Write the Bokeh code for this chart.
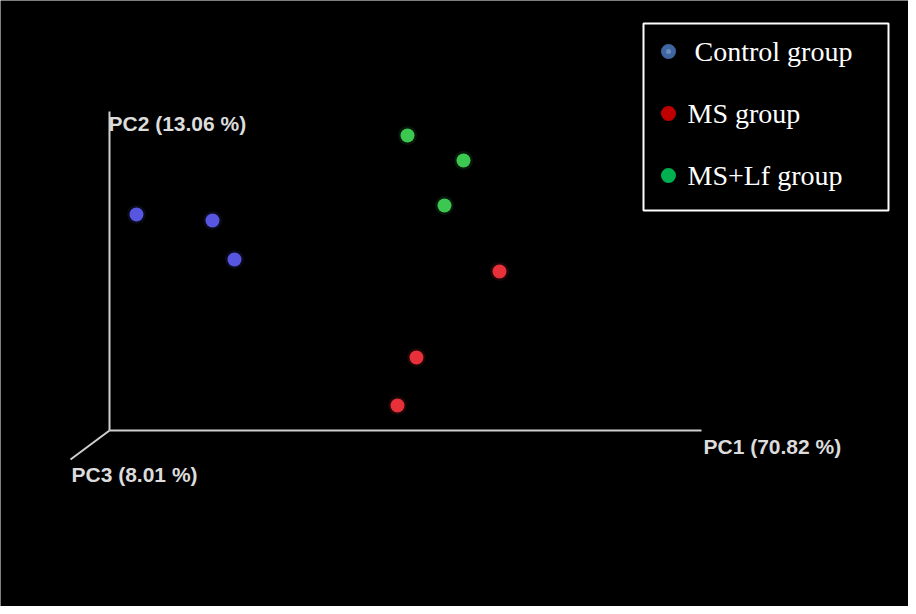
from bokeh.plotting import figure
from bokeh.models import Range1d
from bokeh.core.properties import value
from bokeh.embed import file_html
from bokeh.resources import INLINE

# ---- data (projected PCoA scores) ----
groups = ["Control group", "MS group", "MS+Lf group"]
control_pc1 = [0.27, 1.03, 1.25]
control_pc2 = [2.16, 2.10, 1.71]
ms_pc1 = [3.90, 3.07, 2.88]
ms_pc2 = [1.59, 0.73, 0.25]
mslf_pc1 = [2.98, 3.54, 3.35]
mslf_pc2 = [2.95, 2.70, 2.25]
axis_labels = ["PC1 (70.82 %)", "PC2 (13.06 %)", "PC3 (8.01 %)"]

point_colors = ["#5656e0", "#e8303a", "#3cc850"]
legend_colors = ["#3f66a0", "#c00000", "#00b050"]

W, H = 908, 606
# pixel -> data helpers for layout (origin of axes at px (117, 438), 100 px per unit)
OX, OY, S = 117, 438, 100.0
def dx(px):
    return (px - OX) / S
def dy(py):
    return (OY - py) / S

p = figure(width=W, height=H, output_backend="svg", toolbar_location=None,
           x_range=Range1d(dx(8), dx(8 + W)), y_range=Range1d(dy(8 + H), dy(8)),
           min_border=0, background_fill_color="black", border_fill_color="black",
           outline_line_color=None)
p.axis.visible = False
p.grid.visible = False

# 3D axes
ax_col = "#cfcfcf"
p.segment(x0=[0, 0, 0], y0=[0, 0, 0],
          x1=[dx(709), 0, dx(78)], y1=[0, dy(119), dy(467)],
          line_color=ax_col, line_width=2)

lab_font = value("Liberation Sans")
lab_kw = dict(text_color="#dcdcdc", text_font=lab_font, text_font_size="21px",
              text_font_style="bold", text_baseline="middle", text_align="left")
p.text(x=[dx(711)], y=[dy(454)], text=[axis_labels[0]], **lab_kw)
p.text(x=[dx(116)], y=[dy(131)], text=[axis_labels[1]], **lab_kw)
p.text(x=[dx(79)], y=[dy(482)], text=[axis_labels[2]], **lab_kw)

# points with slight glow
for xs, ys, c in [(control_pc1, control_pc2, point_colors[0]),
                  (ms_pc1, ms_pc2, point_colors[1]),
                  (mslf_pc1, mslf_pc2, point_colors[2])]:
    p.scatter(xs, ys, size=19, fill_color=c, fill_alpha=0.12, line_color=None)
    p.scatter(xs, ys, size=14, fill_color=c, line_color=None)

# legend box
p.quad(left=[dx(651)], right=[dx(896)], top=[dy(31)], bottom=[dy(218)],
       fill_color="black", line_color="white", line_width=2)
leg_y = [dy(59), dy(121), dy(183)]
p.scatter([dx(676)] * 3, leg_y, size=15, fill_color=legend_colors, line_color=None)
p.scatter([dx(676)], [leg_y[0]], size=5, fill_color="#6a8cc0", line_color=None)
p.text(x=[dx(702), dx(695), dx(695)], y=leg_y, text=groups, text_color="white",
       text_font=value("Liberation Serif"), text_font_size="28px",
       text_baseline="middle", text_align="left")

open("out.html", "w").write(file_html(p, INLINE))
